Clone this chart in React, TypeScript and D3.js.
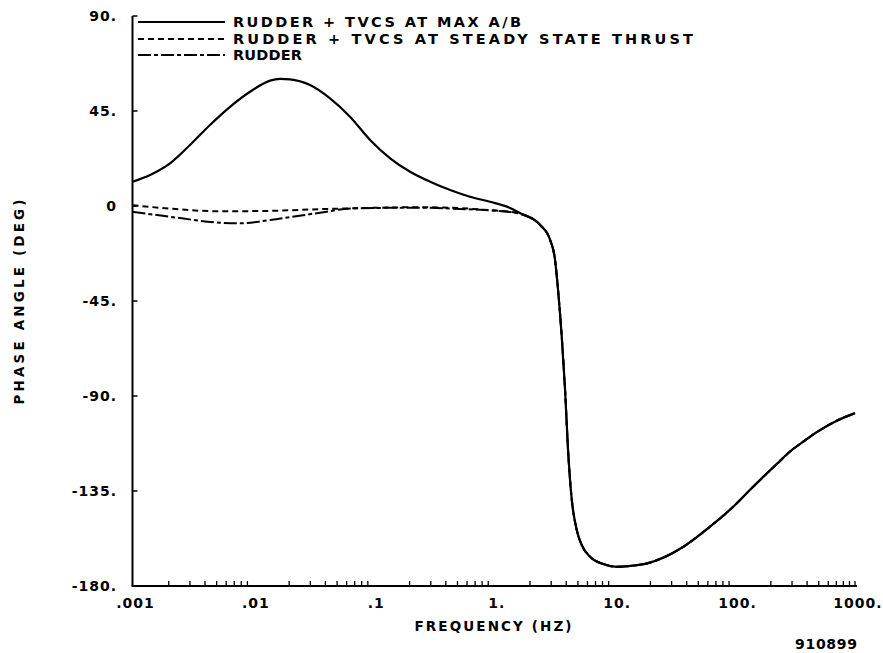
import React from "react";
import * as d3 from "d3";

// ---- data ----
const xTickValues = [0.001, 0.01, 0.1, 1, 10, 100, 1000];
const xTickLabels = [".001", ".01", ".1", "1.", "10.", "100.", "1000."];
const yTickValues = [90, 45, 0, -45, -90, -135, -180];
const yTickLabels = ["90.", "45.", "0", "-45.", "-90.", "-135.", "-180."];

const legendLabels = [
  "RUDDER + TVCS AT MAX A/B",
  "RUDDER + TVCS AT STEADY STATE THRUST",
  "RUDDER",
];

// common high-frequency portion (all three curves coincide)
const tailFreq = [2.43, 2.94, 3.23, 3.42, 3.67, 3.91, 4.14, 4.3, 4.45, 4.89, 5.38, 6.3, 8.13, 10.5, 13.6, 18.7, 37.6, 62.5, 97.7, 134, 185, 240, 287, 372, 482, 700, 1000];
const tailPhase = [-9.0, -16.1, -25.6, -39.8, -61.9, -87.1, -115.6, -129.8, -139.3, -153.5, -160.6, -166.1, -169.6, -170.9, -170.5, -169.3, -161.4, -151.9, -142.4, -134.5, -126.7, -120.6, -116.4, -111.6, -107.1, -101.8, -98.1];

const maxAbFreq = [0.001, 0.0014, 0.00205, 0.003, 0.0044, 0.00646, 0.00946, 0.01388, 0.0168, 0.0203, 0.0298, 0.0437, 0.064, 0.094, 0.138, 0.202, 0.296, 0.434, 0.636, 0.931, 1.365, 1.65];
const maxAbPhase = [11.5, 14.7, 20.2, 28.9, 38.4, 47.0, 54.1, 59.4, 60.2, 60.0, 57.3, 51.0, 42.3, 31.3, 22.6, 16.2, 11.5, 7.6, 4.4, 2.0, -0.9, -3.3];

const steadyFreq = [0.001, 0.002, 0.0053, 0.0139, 0.036, 0.0678, 0.244, 0.434, 0.93, 1.365, 1.65];
const steadyPhase = [0.4, -1.2, -2.5, -2.3, -1.5, -1.1, -0.6, -0.8, -2.0, -2.7, -3.6];

const rudderFreq = [0.001, 0.00205, 0.00533, 0.0078, 0.0139, 0.036, 0.0678, 0.244, 0.434, 0.93, 1.365, 1.65];
const rudderPhase = [-2.7, -5.1, -7.9, -8.2, -6.6, -3.2, -1.1, -0.8, -1.2, -2.1, -2.8, -3.7];

const seriesDash = [null, "6,4", "13,3,4,3"];

const W = 883;
const H = 653;

export default function App() {
  const x = d3.scaleLog().domain([0.001, 1000]).range([132.5, 855]);
  const y = d3.scaleLinear().domain([-180, 90]).range([586, 16]);

  const line = d3
    .line<[number, number]>()
    .x((d) => x(d[0]))
    .y((d) => y(d[1]))
    .curve(d3.curveMonotoneX);

  const mk = (f: number[], p: number[]) =>
    f.map((v, i) => [v, p[i]] as [number, number]).concat(tailFreq.map((v, i) => [v, tailPhase[i]] as [number, number]));

  const series = [
    mk(maxAbFreq, maxAbPhase),
    mk(steadyFreq, steadyPhase),
    mk(rudderFreq, rudderPhase),
  ];

  // minor ticks 2..9 in each decade
  const minor: number[] = [];
  for (let d = 0; d < 6; d++) {
    const base = xTickValues[d];
    for (let k = 2; k <= 9; k++) minor.push(base * k);
  }

  const font = "'DejaVu Sans', sans-serif";
  const legendY = [22, 39, 55];
  const legendTextW = [288, 460, 69];

  return (
    <svg
      width={W}
      height={H}
      style={{ position: "absolute", left: 0, top: 0, background: "#fff" }}
      fontFamily={font}
    >
      <rect width={W} height={H} fill="#fff" />
      {/* axes */}
      <line x1={x(0.001)} x2={x(0.001)} y1={y(90)} y2={y(-180)} stroke="#000" strokeWidth={2} />
      <line x1={x(0.001) - 1} x2={x(1000) + 2} y1={y(-180)} y2={y(-180)} stroke="#000" strokeWidth={2} />
      {yTickValues.map((v) => (
        <line key={"yt" + v} x1={x(0.001)} x2={x(0.001) + 5} y1={y(v)} y2={y(v)} stroke="#000" strokeWidth={1.5} />
      ))}
      {minor.map((v, i) => (
        <line key={"mt" + i} x1={x(v)} x2={x(v)} y1={y(-180)} y2={y(-180) - 5} stroke="#000" strokeWidth={1.3} />
      ))}
      <line x1={x(1000)} x2={x(1000)} y1={y(-180)} y2={y(-180) - 5} stroke="#000" strokeWidth={1.3} />

      {/* tick labels */}
      {yTickValues.map((v, i) => (
        <text key={"yl" + v} x={117} y={y(v)} dy="0.36em" textAnchor="end" fontSize={14} fontWeight="bold" letterSpacing={1}>
          {yTickLabels[i]}
        </text>
      ))}
      {xTickValues.map((v, i) => (
        <text key={"xl" + v} x={x(v) + 3} y={603} dy="0.36em" textAnchor="middle" fontSize={14} fontWeight="bold" letterSpacing={1}>
          {xTickLabels[i]}
        </text>
      ))}

      {/* axis titles */}
      <text x={493} y={626} dy="0.36em" textAnchor="middle" fontSize={13.5} fontWeight="bold" textLength={157} lengthAdjust="spacing">
        FREQUENCY  (HZ)
      </text>
      <text
        transform={`translate(19,302) rotate(-90)`}
        dy="0.36em"
        textAnchor="middle"
        fontSize={13.5}
        fontWeight="bold"
        textLength={205}
        lengthAdjust="spacing"
      >
        PHASE ANGLE  (DEG)
      </text>
      <text x={795} y={644} dy="0.36em" textAnchor="start" fontSize={14} fontWeight="bold" textLength={62} lengthAdjust="spacing">
        910899
      </text>

      {/* curves */}
      {series.map((s, i) => (
        <path
          key={"s" + i}
          d={line(s) || ""}
          fill="none"
          stroke="#000"
          strokeWidth={i === 0 ? 2.2 : 2}
          strokeDasharray={seriesDash[i] || undefined}
        />
      ))}

      {/* legend */}
      {legendLabels.map((lab, i) => (
        <g key={"lg" + i}>
          <line x1={138} x2={225} y1={legendY[i]} y2={legendY[i]} stroke="#000" strokeWidth={2} strokeDasharray={seriesDash[i] || undefined} />
          <text x={233} y={legendY[i]} dy="0.36em" fontSize={14.5} fontWeight="bold" textLength={legendTextW[i]} lengthAdjust="spacing">
            {lab}
          </text>
        </g>
      ))}
    </svg>
  );
}
